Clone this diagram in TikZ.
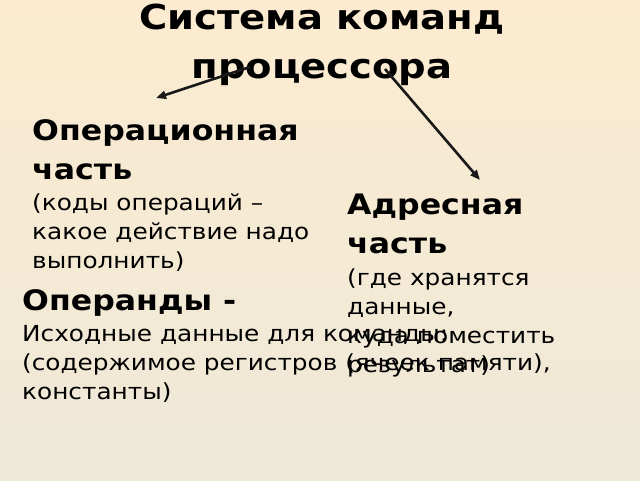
\documentclass[tikz,border=0pt]{standalone}
\usepackage{fontspec}
\setmainfont[FakeStretch=1.12]{DejaVu Sans}
\usetikzlibrary{arrows.meta}
\definecolor{bgtop}{HTML}{FCEBD0}
\definecolor{bgbot}{HTML}{EEE9D8}
\tikzset{
  title/.style={anchor=base,align=center,inner sep=0pt,font=\fontsize{34.4}{49}\selectfont\bfseries},
  head/.style={anchor=base west,align=left,inner sep=0pt,font=\fontsize{28.2}{39}\selectfont\bfseries},
  body/.style={anchor=base west,align=left,inner sep=0pt,font=\fontsize{22.1}{28.8}\selectfont},
  arr/.style={-{Triangle[length=10pt,width=8pt]},line width=2.6pt,black!90}
}
\begin{document}
\begin{tikzpicture}[x=1pt,y=-1pt]
            \useasboundingbox (0,0) rectangle (640,480);
            \shade[top color=bgtop,bottom color=bgbot] (0,0) rectangle (640,480);
            % les noeuds sont places par la ligne de base de leur derniere ligne
            \node[title] (titre) at (322,78) {Система команд\\процессора};
            \node[head] (ophead) at (32,179) {Операционная\\часть};
            \node[body] (optext) at (32,268) {(коды операций –\\какое действие надо\\выполнить)};
            \node[head] (adrhead) at (347,253) {Адресная\\часть};
            \node[body] (adrtext) at (347,372) {(где хранятся\\данные,\\куда поместить\\результат)};
            \node[head] (opnd) at (22,310) {Операнды -};
            \node[body] (opndtext) at (22,399) {Исходные данные для команды:\\(содержимое регистров (ячеек памяти),\\константы)};
            % les deux fleches partent du titre
            \coordinate (opstart) at (250,67);
            \coordinate (optip) at (156,98);
            \coordinate (adrstart) at (385,69);
            \coordinate (adrtip) at (480,180);
            \draw [arr] (opstart) -- (optip);
            \draw [arr] (adrstart) -- (adrtip);
        \end{tikzpicture}
\end{document}
